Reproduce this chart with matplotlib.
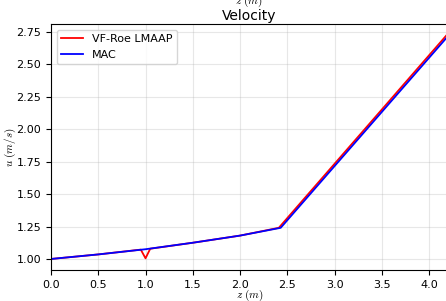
import matplotlib
matplotlib.use("Agg")
import matplotlib.pyplot as plt
import numpy as np

# Velocity profiles (z in m, u in m/s)
z_mac = [0.0, 0.5, 1.0, 1.5, 2.0, 2.43, 4.3]
u_mac = [1.0, 1.035, 1.075, 1.125, 1.18, 1.24, 2.80]

z_roe = [0.0, 0.5, 0.95, 1.0, 1.05, 1.5, 2.0, 2.41, 4.3]
u_roe = [1.0, 1.035, 1.072, 1.005, 1.079, 1.125, 1.18, 1.24, 2.82]

x_ticks = [0.0, 0.5, 1.0, 1.5, 2.0, 2.5, 3.0, 3.5, 4.0]
y_ticks = [1.00, 1.25, 1.50, 1.75, 2.00, 2.25, 2.50, 2.75]

plt.rcParams["mathtext.fontset"] = "cm"

fig = plt.figure(figsize=(4.46, 3.01), dpi=100)
ax = fig.add_axes([51 / 446, 31 / 301, 397 / 446, 246 / 301])

ax.plot(z_roe, u_roe, color="red", lw=1.3, label="VF-Roe LMAAP")
ax.plot(z_mac, u_mac, color="blue", lw=1.3, label="MAC")

ax.set_xlim(0.0, 4.2)
ax.set_ylim(0.915, 2.81)
ax.set_xticks(x_ticks)
ax.set_yticks(y_ticks)
ax.tick_params(labelsize=8)
ax.grid(True, alpha=0.3)

ax.set_xlabel(r"$z\ (m)$", fontsize=8)
ax.set_ylabel(r"$u\ (m/s)$", fontsize=8)
ax.xaxis.set_label_coords(0.5, -0.072)
ax.yaxis.set_label_coords(-0.082, 0.5)
ax.set_title("Velocity", fontsize=10, pad=3)
ax.legend(loc="upper left", fontsize=8)

# leftover label from the subplot above, cut by the figure edge
fig.text(0.557, 0.997, r"$z\ (m)$", fontsize=8, ha="center", va="center")

fig.savefig("out.png", dpi=100)
